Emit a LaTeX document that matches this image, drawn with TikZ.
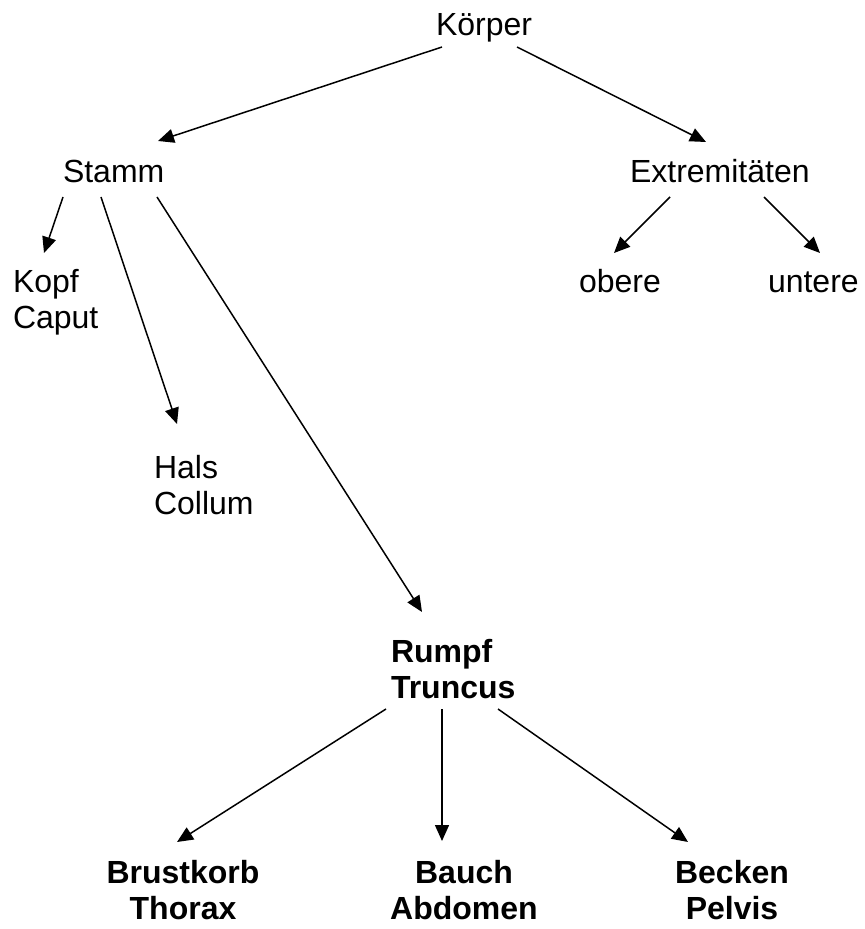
\documentclass[tikz,border=0pt]{standalone}
\usepackage{fontspec}
\setmainfont{Liberation Sans}
\usetikzlibrary{arrows.meta}
\begin{document}
\begin{tikzpicture}[x=0.5pt,y=-0.5pt,
  lbl/.style={inner sep=0pt,outer sep=0pt,anchor=base west,font=\fontsize{16}{18}\selectfont,align=left},
  blbl/.style={inner sep=0pt,outer sep=0pt,anchor=base,font=\fontsize{16}{18}\selectfont\bfseries,align=center},
  arr/.style={line width=0.75pt,-{Triangle[length=8pt,width=7pt]}}]
\useasboundingbox[fill=white] (0,0) rectangle (864,929);
\node[lbl] (koerper) at (436,36) {Körper};
\node[lbl] (stamm) at (63,183) {Stamm};
\node[lbl] (extr) at (630,183) {Extremitäten};
\node[lbl] (kopf) at (13,329) {Kopf\\Caput};
\node[lbl] (obere) at (579,293) {obere};
\node[lbl] (untere) at (768,293) {untere};
\node[lbl] (hals) at (154,514) {Hals\\Collum};
\node[lbl,font=\fontsize{16}{18}\selectfont\bfseries] (rumpf) at (391,698) {Rumpf\\Truncus};
\node[blbl] (brust) at (183,919) {Brustkorb\\Thorax};
\node[blbl] (bauch) at (464,919) {Bauch\\Abdomen};
\node[blbl] (becken) at (732,919) {Becken\\Pelvis};
\draw[arr] ([shift={(6,11)}]koerper.base west) -- ([shift={(95,-42)}]stamm.base west);
\draw[arr] ([shift={(81,11)}]koerper.base west) -- ([shift={(76,-41)}]extr.base west);
\draw[arr] ([shift={(0,14)}]stamm.base west) -- ([shift={(31,-76)}]kopf.base west);
\draw[arr] ([shift={(38,14)}]stamm.base west) -- ([shift={(23,-90)}]hals.base west);
\draw[arr] ([shift={(94,14)}]stamm.base west) -- ([shift={(31,-86)}]rumpf.base west);
\draw[arr] ([shift={(40,14)}]extr.base west) -- ([shift={(35,-40)}]obere.base west);
\draw[arr] ([shift={(134,14)}]extr.base west) -- ([shift={(52,-40)}]untere.base west);
\draw[arr] ([shift={(-5,11)}]rumpf.base west) -- ([shift={(-6,-77)}]brust.base);
\draw[arr] ([shift={(51,11)}]rumpf.base west) -- ([shift={(-22,-78)}]bauch.base);
\draw[arr] ([shift={(107,11)}]rumpf.base west) -- ([shift={(-44,-77)}]becken.base);
\end{tikzpicture}
\end{document}
